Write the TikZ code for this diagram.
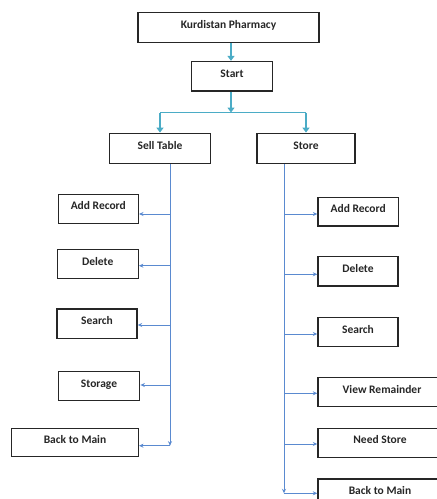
\documentclass[tikz,border=0pt]{standalone}
\usepackage{fontspec}
\setmainfont{Carlito}
\usetikzlibrary{arrows.meta}
\definecolor{teal1}{HTML}{4BACC6}
\definecolor{blue1}{HTML}{5A8AD0}
\begin{document}
\begin{tikzpicture}[x=1pt,y=-1pt,
  box/.style={draw=black!85,line width=1.4pt,inner sep=0pt,text height=8pt,text depth=6pt,font=\fontsize{11.5}{13}\selectfont\bfseries,text=black!85},
  mainarrow/.style={draw=teal1,line width=1.8pt,-{Triangle[length=5pt,width=7pt]}},
  mainline/.style={draw=teal1,line width=1.8pt},
  subarrow/.style={draw=blue1,line width=0.9pt,-{Stealth[length=4.5pt,width=4pt]}},
  subline/.style={draw=blue1,line width=0.9pt}]
\useasboundingbox (0,0) rectangle (437,499);
\clip (0,0) rectangle (437,499);
% top boxes
\node[box,minimum width=181,minimum height=29.5] (kp) at (228.5,27.5) {Kurdistan Pharmacy};
\node[box,minimum width=80.5,minimum height=29.5] (start) at (232,76.3) {Start};
\node[box,minimum width=101.5,minimum height=30] (sell) at (160,148.3) {Sell Table};
\node[box,minimum width=98,minimum height=30] (store) at (306,148.3) {Store};
% left boxes
\node[box,minimum width=80,minimum height=29] (ladd) at (98.3,208.8) {Add Record};
\node[box,minimum width=81,minimum height=29.4] (ldel) at (97.7,264) {Delete};
\node[box,minimum width=80,minimum height=29.3] (lsea) at (97,323.7) {Search};
\node[box,minimum width=81.4,minimum height=29] (lsto) at (99,386.2) {Storage};
\node[box,minimum width=126.6,minimum height=28.4] (lback) at (75,442.5) {Back to Main};
% right boxes
\node[box,minimum width=80.3,minimum height=28.7] (radd) at (358.2,211.7) {Add Record};
\node[box,minimum width=80,minimum height=29.3] (rdel) at (358,271.3) {Delete};
\node[box,minimum width=80,minimum height=29.4] (rsea) at (358,332) {Search};
\node[box,minimum width=128,minimum height=29.4] (rview) at (382,392) {View Remainder};
\node[box,minimum width=124,minimum height=29] (rneed) at (380,442.8) {Need Store};
\node[box,minimum width=124,minimum height=29] (rback) at (380,493.5) {Back to Main};
% top connectors
\coordinate (j) at (231,112.5);
\draw[mainarrow] (kp.south -| 231,0) -- (start.north -| 231,0);
\draw[mainarrow] (start.south -| 231,0) -- (j);
\draw[mainline] (sell.north |- j) -- (store.north |- j);
\draw[mainarrow] (sell.north |- j) -- (sell.north);
\draw[mainarrow] (store.north |- j) -- (store.north);
% left trunk
\coordinate (lt) at (170,445.7);
\draw[subarrow] (sell.south -| lt) -- (lt);
\draw[subarrow] (170,214) -- (ladd.east |- 0,214);
\draw[subarrow] (170,265.7) -- (ldel.east |- 0,265.7);
\draw[subarrow] (170,325) -- (lsea.east |- 0,325);
\draw[subarrow] (170,385) -- (lsto.east |- 0,385);
\draw[subarrow] (lt) -- (lback.east |- lt);
% right trunk
\coordinate (rt) at (284,493.3);
\draw[subarrow] (store.south -| rt) -- (rt);
\draw[subarrow] (284,214) -- (radd.west |- 0,214);
\draw[subarrow] (284,274.3) -- (rdel.west |- 0,274.3);
\draw[subarrow] (284,334) -- (rsea.west |- 0,334);
\draw[subarrow] (284,393.3) -- (rview.west |- 0,393.3);
\draw[subarrow] (284,444) -- (rneed.west |- 0,444);
\draw[subarrow] (rt) -- (rback.west |- rt);
\end{tikzpicture}
\end{document}
